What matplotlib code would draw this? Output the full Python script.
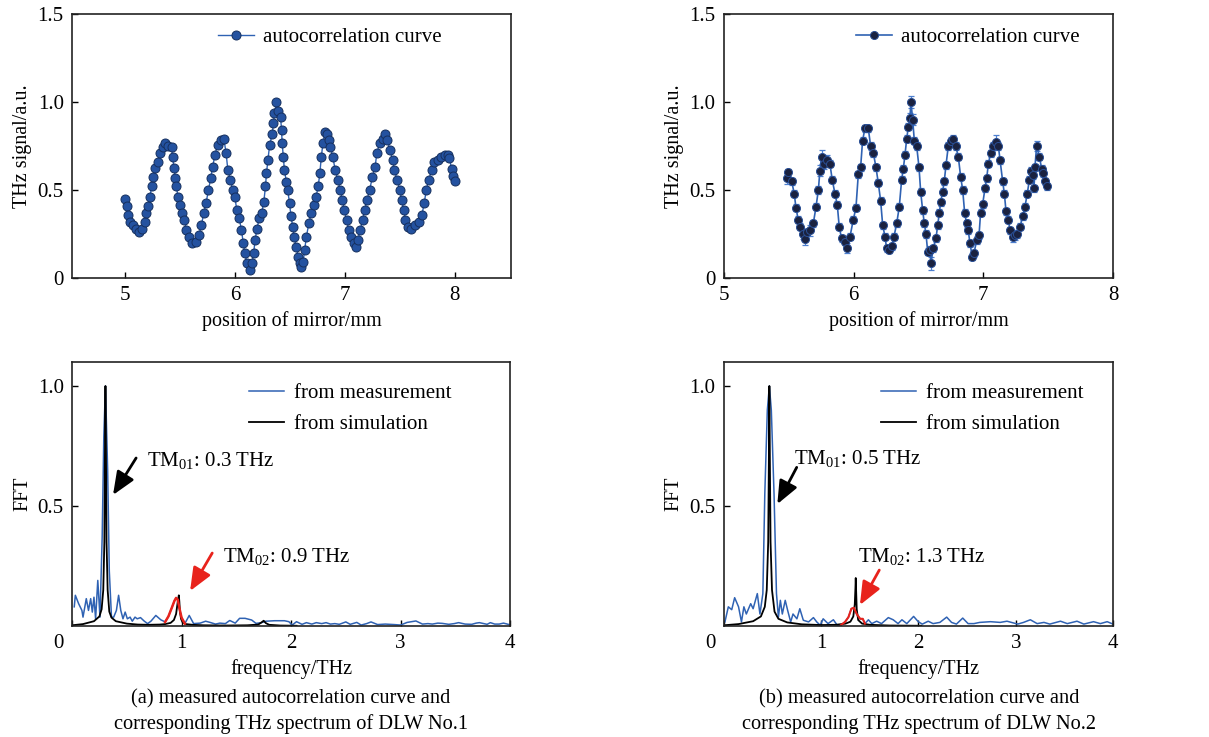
import matplotlib
matplotlib.use("Agg")
import matplotlib.pyplot as plt
import numpy as np

plt.rcParams['font.family'] = ['Liberation Serif', 'DejaVu Serif']
plt.rcParams['mathtext.fontset'] = 'custom'
plt.rcParams['mathtext.rm'] = 'Liberation Serif'
plt.rcParams['mathtext.it'] = 'Liberation Serif:italic'

# ---- (a) autocorrelation, DLW No.1
auto1_x = [5.000, 5.015, 5.030, 5.044, 5.073, 5.100, 5.130, 5.160, 5.180, 5.196,
           5.213, 5.228, 5.243, 5.257, 5.278, 5.298, 5.320, 5.345, 5.365, 5.395,
           5.424, 5.433, 5.447, 5.459, 5.468, 5.482, 5.497, 5.518, 5.540, 5.560,
           5.585, 5.614, 5.643, 5.673, 5.696, 5.716, 5.737, 5.760, 5.780, 5.798,
           5.819, 5.842, 5.870, 5.900, 5.920, 5.936, 5.959, 5.980, 6.000, 6.017,
           6.038, 6.060, 6.076, 6.090, 6.110, 6.135, 6.155, 6.170, 6.184, 6.200,
           6.222, 6.243, 6.263, 6.278, 6.287, 6.300, 6.316, 6.340, 6.350, 6.360,
           6.378, 6.396, 6.415, 6.424, 6.430, 6.440, 6.450, 6.468, 6.480, 6.497,
           6.510, 6.526, 6.538, 6.556, 6.576, 6.590, 6.605, 6.620, 6.634, 6.650,
           6.672, 6.693, 6.716, 6.737, 6.757, 6.772, 6.786, 6.800, 6.820, 6.840,
           6.854, 6.868, 6.889, 6.912, 6.936, 6.956, 6.977, 6.994, 7.015, 7.035,
           7.058, 7.082, 7.100, 7.117, 7.140, 7.160, 7.180, 7.200, 7.225, 7.250,
           7.275, 7.290, 7.316, 7.345, 7.365, 7.386, 7.410, 7.433, 7.450, 7.474,
           7.500, 7.515, 7.535, 7.550, 7.576, 7.605, 7.640, 7.675, 7.700, 7.720,
           7.740, 7.760, 7.790, 7.810, 7.850, 7.877, 7.906, 7.935, 7.950, 7.970,
           7.985, 8.000]
auto1_y = [0.45, 0.41, 0.36, 0.32, 0.30, 0.28, 0.263, 0.28, 0.32, 0.367,
           0.41, 0.46, 0.52, 0.576, 0.623, 0.66, 0.71, 0.746, 0.765, 0.75,
           0.746, 0.69, 0.623, 0.566, 0.52, 0.46, 0.415, 0.367, 0.33, 0.273,
           0.235, 0.197, 0.206, 0.244, 0.30, 0.367, 0.424, 0.50, 0.566, 0.633,
           0.70, 0.756, 0.784, 0.79, 0.71, 0.614, 0.557, 0.50, 0.46, 0.386,
           0.34, 0.273, 0.197, 0.14, 0.083, 0.045, 0.083, 0.14, 0.216, 0.28,
           0.34, 0.367, 0.434, 0.52, 0.595, 0.67, 0.756, 0.82, 0.88, 0.936,
           1.00, 0.95, 0.917, 0.84, 0.765, 0.69, 0.614, 0.547, 0.50, 0.424,
           0.35, 0.29, 0.235, 0.178, 0.12, 0.083, 0.065, 0.093, 0.16, 0.235,
           0.31, 0.367, 0.415, 0.46, 0.52, 0.595, 0.69, 0.765, 0.83, 0.82,
           0.784, 0.746, 0.69, 0.614, 0.557, 0.50, 0.443, 0.386, 0.33, 0.273,
           0.235, 0.197, 0.178, 0.216, 0.273, 0.33, 0.386, 0.443, 0.50, 0.576,
           0.633, 0.71, 0.765, 0.79, 0.82, 0.784, 0.727, 0.67, 0.614, 0.557,
           0.50, 0.443, 0.386, 0.33, 0.29, 0.276, 0.30, 0.32, 0.358, 0.424,
           0.50, 0.557, 0.614, 0.66, 0.67, 0.69, 0.70, 0.70, 0.68, 0.62,
           0.58, 0.55]

# ---- (b) autocorrelation, DLW No.2
auto2_x = [5.483, 5.496, 5.522, 5.542, 5.555, 5.573, 5.586, 5.607, 5.625, 5.638,
           5.663, 5.689, 5.710, 5.728, 5.740, 5.753, 5.771, 5.792, 5.817, 5.835,
           5.856, 5.874, 5.889, 5.907, 5.933, 5.951, 5.972, 5.997, 6.018, 6.036,
           6.054, 6.069, 6.087, 6.113, 6.131, 6.152, 6.172, 6.190, 6.208, 6.224,
           6.242, 6.254, 6.275, 6.293, 6.311, 6.332, 6.352, 6.370, 6.383, 6.396,
           6.409, 6.422, 6.434, 6.442, 6.455, 6.468, 6.486, 6.504, 6.517, 6.532,
           6.545, 6.558, 6.571, 6.589, 6.596, 6.614, 6.635, 6.648, 6.661, 6.671,
           6.686, 6.699, 6.712, 6.730, 6.748, 6.769, 6.787, 6.807, 6.825, 6.841,
           6.856, 6.871, 6.884, 6.897, 6.915, 6.928, 6.949, 6.967, 6.979, 6.995,
           7.013, 7.026, 7.039, 7.057, 7.077, 7.098, 7.116, 7.129, 7.149, 7.162,
           7.175, 7.193, 7.206, 7.226, 7.244, 7.262, 7.283, 7.303, 7.321, 7.339,
           7.355, 7.368, 7.380, 7.391, 7.398, 7.411, 7.432, 7.450, 7.463, 7.476,
           7.488]
auto2_y = [0.566, 0.60, 0.55, 0.48, 0.40, 0.33, 0.29, 0.25, 0.22, 0.26,
           0.27, 0.31, 0.405, 0.50, 0.61, 0.69, 0.65, 0.67, 0.65, 0.557,
           0.48, 0.415, 0.29, 0.225, 0.206, 0.17, 0.235, 0.33, 0.40, 0.59,
           0.63, 0.78, 0.85, 0.85, 0.75, 0.71, 0.63, 0.54, 0.44, 0.30,
           0.235, 0.17, 0.16, 0.18, 0.235, 0.31, 0.405, 0.557, 0.62, 0.70,
           0.79, 0.86, 0.91, 1.00, 0.90, 0.78, 0.75, 0.63, 0.49, 0.386,
           0.31, 0.25, 0.15, 0.16, 0.083, 0.17, 0.225, 0.30, 0.37, 0.43,
           0.49, 0.55, 0.64, 0.75, 0.78, 0.79, 0.75, 0.69, 0.576, 0.50,
           0.37, 0.31, 0.27, 0.197, 0.12, 0.14, 0.216, 0.244, 0.37, 0.42,
           0.51, 0.566, 0.65, 0.71, 0.75, 0.775, 0.75, 0.67, 0.55, 0.48,
           0.38, 0.33, 0.27, 0.235, 0.244, 0.25, 0.29, 0.35, 0.405, 0.48,
           0.557, 0.61, 0.585, 0.51, 0.63, 0.75, 0.69, 0.62, 0.595, 0.55,
           0.52]
auto2_err = [0.03, 0.02, 0.02, 0.02, 0.02, 0.02, 0.02, 0.03, 0.035, 0.02,
             0.03, 0.02, 0.02, 0.02, 0.03, 0.04, 0.03, 0.03, 0.02, 0.02,
             0.02, 0.02, 0.02, 0.02, 0.02, 0.03, 0.02, 0.02, 0.02, 0.02,
             0.02, 0.02, 0.02, 0.02, 0.02, 0.02, 0.02, 0.02, 0.02, 0.02,
             0.02, 0.02, 0.02, 0.02, 0.02, 0.02, 0.02, 0.02, 0.02, 0.02,
             0.02, 0.02, 0.03, 0.035, 0.03, 0.02, 0.02, 0.02, 0.02, 0.02,
             0.02, 0.02, 0.02, 0.02, 0.035, 0.02, 0.02, 0.02, 0.02, 0.02,
             0.02, 0.02, 0.02, 0.02, 0.02, 0.02, 0.02, 0.02, 0.02, 0.02,
             0.02, 0.02, 0.02, 0.02, 0.02, 0.02, 0.02, 0.02, 0.02, 0.02,
             0.02, 0.02, 0.02, 0.02, 0.02, 0.04, 0.02, 0.02, 0.02, 0.02,
             0.02, 0.02, 0.02, 0.03, 0.03, 0.02, 0.02, 0.02, 0.02, 0.02,
             0.02, 0.02, 0.02, 0.02, 0.02, 0.03, 0.02, 0.02, 0.02, 0.02,
             0.02]

# ---- FFT spectra, DLW No.1
meas1_f = [0.02, 0.03, 0.06, 0.09, 0.10, 0.13, 0.15, 0.17, 0.185, 0.20,
           0.215, 0.235, 0.255, 0.275, 0.29, 0.305, 0.325, 0.34, 0.36, 0.38,
           0.405, 0.425, 0.445, 0.465, 0.485, 0.505, 0.53, 0.55, 0.575, 0.595,
           0.625, 0.66, 0.69, 0.72, 0.765, 0.81, 0.85, 0.88, 0.91, 0.935,
           0.95, 0.965, 0.98, 1.00, 1.03, 1.07, 1.11, 1.17, 1.22, 1.26,
           1.31, 1.35, 1.40, 1.44, 1.49, 1.53, 1.58, 1.64, 1.68, 1.73,
           1.77, 1.85, 1.94, 1.98, 2.01, 2.05, 2.10, 2.14, 2.19, 2.23,
           2.28, 2.32, 2.36, 2.40, 2.44, 2.50, 2.54, 2.60, 2.64, 2.69,
           2.73, 2.79, 2.86, 2.94, 3.00, 3.06, 3.14, 3.20, 3.25, 3.29,
           3.34, 3.38, 3.44, 3.49, 3.53, 3.59, 3.65, 3.69, 3.72, 3.79,
           3.82, 3.86, 3.90, 3.94, 4.00]
meas1_a = [0.08, 0.128, 0.093, 0.065, 0.037, 0.114, 0.065, 0.114, 0.058, 0.12,
           0.03, 0.19, 0.037, 0.37, 0.79, 1.0, 0.65, 0.23, 0.037, 0.037,
           0.065, 0.128, 0.065, 0.03, 0.058, 0.03, 0.037, 0.02, 0.037, 0.03,
           0.035, 0.02, 0.01, 0.02, 0.044, 0.026, 0.017, 0.04, 0.075, 0.105,
           0.117, 0.11, 0.075, 0.035, 0.01, 0.044, 0.01, 0.012, 0.02, 0.015,
           0.008, 0.012, 0.01, 0.023, 0.012, 0.032, 0.032, 0.025, 0.011, 0.014,
           0.02, 0.022, 0.022, 0.018, 0.004, 0.018, 0.007, 0.014, 0.008, 0.014,
           0.01, 0.014, 0.008, 0.01, 0.007, 0.017, 0.007, 0.015, 0.004, 0.01,
           0.017, 0.006, 0.008, 0.006, 0.004, 0.015, 0.021, 0.008, 0.01, 0.008,
           0.012, 0.011, 0.007, 0.01, 0.014, 0.008, 0.007, 0.012, 0.014, 0.007,
           0.014, 0.008, 0.008, 0.012, 0.005]
tm02_1_f = [0.85, 0.88, 0.91, 0.935, 0.95, 0.965, 0.98, 1.00, 1.03]
tm02_1_a = [0.017, 0.04, 0.075, 0.105, 0.117, 0.11, 0.075, 0.035, 0.01]
sim1_f = [0.0, 0.1, 0.2, 0.25, 0.27, 0.285, 0.295, 0.30, 0.305, 0.31,
          0.315, 0.325, 0.34, 0.36, 0.40, 0.50, 0.60, 0.70, 0.80, 0.85,
          0.90, 0.93, 0.95, 0.965, 0.975, 0.98, 0.985, 0.995, 1.01, 1.04,
          1.10, 1.20, 1.40, 1.60, 1.70, 1.73, 1.75, 1.77, 1.80, 1.90,
          2.05]
sim1_a = [0.003, 0.008, 0.02, 0.04, 0.07, 0.15, 0.35, 0.7, 1.0, 0.7,
          0.35, 0.15, 0.06, 0.035, 0.02, 0.01, 0.006, 0.005, 0.006, 0.008,
          0.013, 0.025, 0.05, 0.10, 0.128, 0.10, 0.06, 0.03, 0.015, 0.008,
          0.005, 0.003, 0.002, 0.003, 0.006, 0.015, 0.022, 0.012, 0.005, 0.002,
          0.001]

# ---- FFT spectra, DLW No.2
meas2_f = [0.01, 0.045, 0.08, 0.11, 0.15, 0.18, 0.205, 0.23, 0.275, 0.30,
           0.343, 0.37, 0.40, 0.42, 0.446, 0.467, 0.487, 0.515, 0.54, 0.56,
           0.58, 0.60, 0.63, 0.655, 0.686, 0.71, 0.75, 0.78, 0.816, 0.87,
           0.92, 0.954, 0.99, 1.02, 1.07, 1.125, 1.165, 1.20, 1.245, 1.28,
           1.31, 1.336, 1.365, 1.40, 1.427, 1.45, 1.485, 1.52, 1.57, 1.62,
           1.69, 1.74, 1.79, 1.83, 1.88, 1.95, 2.00, 2.04, 2.10, 2.15,
           2.22, 2.29, 2.34, 2.39, 2.455, 2.51, 2.57, 2.63, 2.74, 2.84,
           2.91, 3.02, 3.08, 3.15, 3.22, 3.29, 3.35, 3.46, 3.53, 3.63,
           3.70, 3.80, 3.87, 3.94, 4.00]
meas2_a = [0.017, 0.08, 0.068, 0.118, 0.08, 0.017, 0.08, 0.05, 0.093, 0.072,
           0.135, 0.05, 0.135, 0.55, 0.90, 1.0, 0.90, 0.55, 0.135, 0.037,
           0.107, 0.05, 0.107, 0.065, 0.017, 0.05, 0.03, 0.072, 0.024, 0.017,
           0.035, 0.017, 0.003, 0.03, 0.01, 0.026, 0.003, 0.003, 0.017, 0.037,
           0.072, 0.076, 0.05, 0.03, 0.03, 0.01, 0.026, 0.01, 0.02, 0.01,
           0.035, 0.026, 0.01, 0.026, 0.01, 0.04, 0.017, 0.008, 0.02, 0.01,
           0.015, 0.037, 0.015, 0.008, 0.033, 0.01, 0.01, 0.015, 0.018, 0.015,
           0.02, 0.008, 0.015, 0.026, 0.01, 0.015, 0.008, 0.02, 0.01, 0.02,
           0.008, 0.018, 0.01, 0.018, 0.008]
tm02_2_f = [1.20, 1.245, 1.28, 1.31, 1.336, 1.365, 1.40, 1.427, 1.45]
tm02_2_a = [0.003, 0.017, 0.037, 0.072, 0.076, 0.05, 0.03, 0.03, 0.01]
sim2_f = [0.0, 0.15, 0.30, 0.38, 0.42, 0.44, 0.455, 0.462, 0.467, 0.472,
          0.479, 0.494, 0.52, 0.56, 0.65, 0.80, 1.00, 1.15, 1.25, 1.30,
          1.33, 1.345, 1.352, 1.355, 1.358, 1.365, 1.38, 1.42, 1.50, 1.70,
          2.03]
sim2_a = [0.003, 0.008, 0.02, 0.04, 0.08, 0.15, 0.35, 0.7, 1.0, 0.7,
          0.35, 0.15, 0.06, 0.03, 0.015, 0.007, 0.004, 0.005, 0.01, 0.018,
          0.04, 0.09, 0.16, 0.20, 0.16, 0.07, 0.025, 0.01, 0.005, 0.002,
          0.001]

captions = ["(a) measured autocorrelation curve and\ncorresponding THz spectrum of DLW No.1",
            "(b) measured autocorrelation curve and\ncorresponding THz spectrum of DLW No.2"]

BLUE = '#2f62b3'
RED = '#e8231c'
ARROW = '-|>,head_length=1.0,head_width=0.42'


def style_axes(ax):
    ax.tick_params(direction='in', length=4, width=1, labelsize=15,
                   top=False, right=False, pad=6)
    for sp in ax.spines.values():
        sp.set_linewidth(1.2)
        sp.set_color('#222222')


def autocorr_axes(ax, xlim, legx):
    style_axes(ax)
    ax.set_ylim(0, 1.5)
    ax.set_yticks([0, 0.5, 1.0, 1.5])
    ax.set_yticklabels(['0', '0.5', '1.0', '1.5'])
    ax.set_xlim(*xlim)
    ax.set_xticks([5, 6, 7, 8])
    ax.set_xticklabels(['5', '6', '7', '8'])
    ax.set_xlabel('position of mirror/mm', fontsize=14.5, labelpad=4)
    ax.set_ylabel('THz signal/a.u.', fontsize=14.5, labelpad=4)
    ax.legend(loc='upper left', bbox_to_anchor=(legx, 1.02), frameon=False,
              fontsize=15, handlelength=1.7, handletextpad=0.45)


def fft_axes(ax, legx):
    style_axes(ax)
    ax.set_xlim(0, 4)
    ax.set_ylim(0, 1.1)
    ax.set_yticks([0.5, 1.0])
    ax.set_yticklabels(['0.5', '1.0'])
    ax.set_xticks([0, 1, 2, 3, 4])
    ax.set_xticklabels(['', '1', '2', '3', '4'])
    ax.annotate('0', xy=(0, 0), xycoords='data', xytext=(-10, -6),
                textcoords='offset points', ha='center', va='top', fontsize=15)
    ax.set_xlabel('frequency/THz', fontsize=14.5, labelpad=4)
    ax.set_ylabel('FFT', fontsize=14.5, labelpad=4)
    ax.legend(loc='upper left', bbox_to_anchor=(legx, 0.99), frameon=False,
              fontsize=15, handlelength=1.7, handletextpad=0.45,
              labelspacing=0.55)


def arrow(ax, start, tip, color):
    ax.annotate('', xy=tip, xytext=start,
                arrowprops=dict(arrowstyle=ARROW, color=color, lw=2.0,
                                mutation_scale=14, shrinkA=0, shrinkB=0))


fig = plt.figure(figsize=(12.09, 7.37), dpi=100)
ax_tl = fig.add_axes([0.0596, 0.6228, 0.3631, 0.3582])
ax_tr = fig.add_axes([0.5988, 0.6228, 0.3218, 0.3582])
ax_bl = fig.add_axes([0.0596, 0.1506, 0.3623, 0.3582])
ax_br = fig.add_axes([0.5988, 0.1506, 0.3218, 0.3582])

# top left
ax_tl.plot(auto1_x, auto1_y, '-o', color=BLUE, lw=1, ms=6.5,
           mfc='#2452a0', mec='#16305f', mew=0.7, label='autocorrelation curve')
autocorr_axes(ax_tl, (4.52, 8.51), 0.29)

# top right
ax_tr.errorbar(auto2_x, auto2_y, yerr=auto2_err, fmt='none', ecolor='#4d7fcf',
               elinewidth=0.9, capsize=2.5, capthick=0.9, zorder=2)
ax_tr.plot(auto2_x, auto2_y, '-o', color=BLUE, lw=1.2, ms=5.8,
           mfc='#1a2240', mec='#2a4f95', mew=0.7, zorder=3,
           label='autocorrelation curve')
autocorr_axes(ax_tr, (5, 8), 0.292)

# bottom left
ax_bl.plot(meas1_f, meas1_a, color=BLUE, lw=1.1, label='from measurement')
ax_bl.plot(sim1_f, sim1_a, color='black', lw=1.3, label='from simulation')
ax_bl.plot(tm02_1_f, tm02_1_a, color=RED, lw=1.8)
fft_axes(ax_bl, 0.361)
ax_bl.text(0.685, 0.69, 'TM$_{01}$: 0.3 THz', fontsize=15, va='center', ha='left')
ax_bl.text(1.38, 0.29, 'TM$_{02}$: 0.9 THz', fontsize=15, va='center', ha='left')
arrow(ax_bl, (0.585, 0.70), (0.374, 0.546), 'black')
arrow(ax_bl, (1.28, 0.304), (1.078, 0.146), RED)

# bottom right
ax_br.plot(meas2_f, meas2_a, color=BLUE, lw=1.1, label='from measurement')
ax_br.plot(sim2_f, sim2_a, color='black', lw=1.3, label='from simulation')
ax_br.plot(tm02_2_f, tm02_2_a, color=RED, lw=1.5)
fft_axes(ax_br, 0.355)
ax_br.text(0.72, 0.70, 'TM$_{01}$: 0.5 THz', fontsize=15, va='center', ha='left')
ax_br.text(1.38, 0.29, 'TM$_{02}$: 1.3 THz', fontsize=15, va='center', ha='left')
arrow(ax_br, (0.748, 0.661), (0.549, 0.508), 'black')
arrow(ax_br, (1.597, 0.233), (1.398, 0.0875), RED)

fig.text(291 / 1209, 1 - 711.5 / 737, captions[0], ha='center', va='center',
         fontsize=14.7, linespacing=1.4)
fig.text(919 / 1209, 1 - 711.5 / 737, captions[1], ha='center', va='center',
         fontsize=14.7, linespacing=1.4)

fig.savefig('out.png', dpi=100)
